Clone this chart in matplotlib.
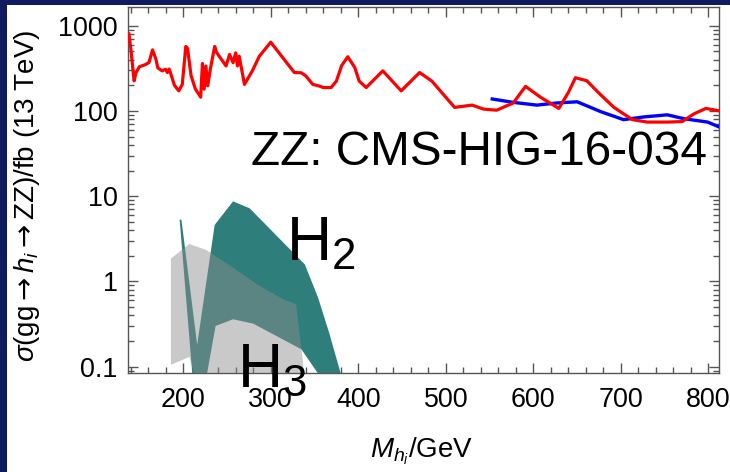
import numpy as np
import matplotlib
matplotlib.use("Agg")
import matplotlib.pyplot as plt
from matplotlib.patches import Rectangle, Polygon
from matplotlib.ticker import MultipleLocator, LogLocator, NullFormatter, FixedLocator, FixedFormatter

plt.rcParams["font.family"] = ["Liberation Sans", "DejaVu Sans"]
plt.rcParams["mathtext.fontset"] = "custom"
plt.rcParams["mathtext.rm"] = "Liberation Sans"
plt.rcParams["mathtext.it"] = "Liberation Sans:italic"
plt.rcParams["mathtext.sf"] = "DejaVu Sans"

# ------------------------------------------------------------
# Observed limit (red) and expected limit (blue), in fb
# ------------------------------------------------------------
obs_mass = [138, 140, 144, 146, 150, 157, 161, 165, 169, 171, 176, 180, 182, 184,
            186, 190, 195, 199, 203, 205, 209, 214, 220, 222, 224, 226, 228, 231,
            236, 238, 241, 249, 253, 257, 260, 262, 264, 270, 279, 287, 300, 314,
            327, 335, 340, 348, 356, 360, 369, 375, 381, 388, 396, 401, 409, 428,
            449, 470, 484, 510, 530, 543, 558, 577, 591, 608, 629, 640, 648, 661,
            674, 692, 713, 730, 753, 770, 783, 797, 813]
obs_xsec = [800, 560, 225, 280, 330, 350, 370, 520, 400, 320, 295, 308, 282, 310,
            270, 200, 172, 205, 570, 540, 260, 180, 145, 360, 180, 336, 197, 308,
            570, 490, 440, 337, 460, 368, 480, 337, 438, 205, 295, 438, 640, 418,
            282, 280, 258, 205, 195, 188, 188, 224, 340, 432, 323, 224, 188, 295,
            172, 282, 224, 110, 117, 105, 102, 124, 194, 145, 107, 165, 245, 226,
            165, 110, 79, 74, 74, 75, 92, 107, 100]

exp_mass = [553, 577, 604, 627, 650, 677, 703, 726, 753, 772, 799, 815]
exp_xsec = [138, 126, 117, 124, 128, 98, 79, 85, 90, 81, 74, 63]

# ------------------------------------------------------------
# Scan regions: H2 (teal) and H3 (grey), outline as (mass, xsec)
# ------------------------------------------------------------
h2_mass = [196, 198, 216, 236, 257, 276, 339, 354, 367, 382,
           359, 335, 280, 257, 237, 226, 211]
h2_xsec = [5.3, 5.3, 0.18, 4.6, 8.7, 7.2, 1.58, 0.65, 0.245, 0.07,
           0.07, 0.16, 0.32, 0.36, 0.30, 0.07, 0.07]

h3_mass = [186, 207, 226, 257, 287, 314, 329, 337, 338, 215, 207, 186]
h3_xsec = [1.85, 2.75, 2.35, 1.45, 0.89, 0.62, 0.54, 0.11, 0.07, 0.07, 0.13, 0.105]

x_major = [200, 300, 400, 500, 600, 700, 800]
y_major = [0.1, 1, 10, 100, 1000]
y_labels = ["0.1", "1", "10", "100", "1000"]

W, H = 730, 472
fig = plt.figure(figsize=(W / 100, H / 100), dpi=100, facecolor="white")

# slide border strips
navy = "#101a5f"
fig.patches.append(Rectangle((0, 0), 7 / W, 1, transform=fig.transFigure,
                             facecolor=navy, edgecolor="none", zorder=-5))
fig.patches.append(Rectangle((0, 1 - 5 / H), 1, 5 / H, transform=fig.transFigure,
                             facecolor=navy, edgecolor="none", zorder=-5))

ax = fig.add_axes([128 / W, 1 - 373 / H, 591 / W, 366 / H])
ax.set_yscale("log")
ax.set_xlim(137, 812)
ax.set_ylim(0.0843, 1656)

ax.add_patch(Polygon(np.column_stack([h2_mass, h2_xsec]), closed=True,
                     facecolor="#2e7e7b", edgecolor="none", zorder=2))
ax.add_patch(Polygon(np.column_stack([h3_mass, h3_xsec]), closed=True,
                     facecolor="#8d8d8d", alpha=0.47, edgecolor="none", zorder=3))

ax.plot(obs_mass, obs_xsec, color="#ff0000", lw=2.3, zorder=5)
ax.plot(exp_mass, exp_xsec, color="#0000ff", lw=2.4, zorder=4)

ax.text(277, 23.3, "ZZ: CMS-HIG-16-034", fontsize=34.4, color="black",
        ha="left", va="baseline", zorder=6)
ax.text(317, 1.79, "H$_2$", fontsize=45, ha="left", va="baseline", zorder=6)
ax.text(262, 0.058, "H$_3$", fontsize=45, ha="left", va="baseline", zorder=6,
        clip_on=False)

# frame and ticks
for s in ax.spines.values():
    s.set_color("#555555")
    s.set_linewidth(1.0)

ax.xaxis.set_major_locator(FixedLocator(x_major))
ax.xaxis.set_minor_locator(MultipleLocator(20))
ax.yaxis.set_major_locator(FixedLocator(y_major))
ax.yaxis.set_major_formatter(FixedFormatter(y_labels))
ax.yaxis.set_minor_locator(LogLocator(base=10, subs=np.arange(2, 10)))
ax.yaxis.set_minor_formatter(NullFormatter())

ax.tick_params(which="both", direction="in", top=True, right=True,
               color="#555555", width=1.0)
ax.tick_params(which="major", length=7, labelsize=19.4)
ax.tick_params(which="minor", length=4)
ax.tick_params(axis="x", pad=10)
ax.tick_params(axis="y", pad=7.5)

ax.set_xlabel(r"$M_{h_i}$/GeV", fontsize=20)
ax.set_ylabel(r"$\sigma$(gg$\mathsf{\rightarrow}h_i\mathsf{\rightarrow}$ZZ)/fb (13 TeV)",
              fontsize=20)
ax.xaxis.set_label_coords(0.497, -0.17)
ax.yaxis.set_label_coords(-0.146, 0.484)

fig.savefig("out.png", dpi=100, facecolor="white")
